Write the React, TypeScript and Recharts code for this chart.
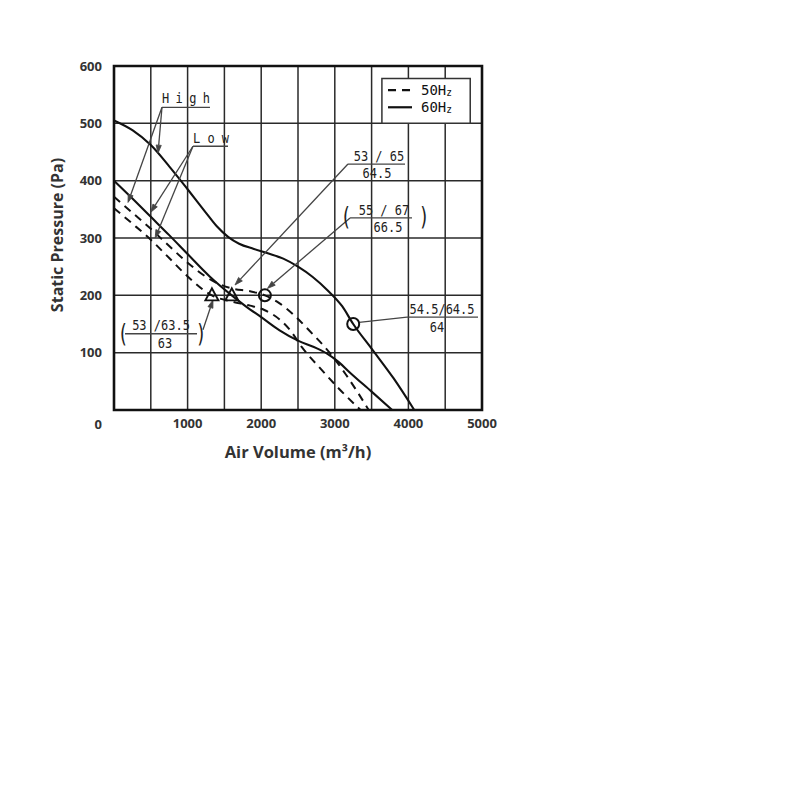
import React from 'react';
import {
  LineChart,
  Line,
  XAxis,
  YAxis,
  CartesianGrid,
  ReferenceLine,
  ReferenceDot,
  ReferenceArea,
  Label,
} from 'recharts';

// ---------- axes ----------
const xTicks = [0, 500, 1000, 1500, 2000, 2500, 3000, 3500, 4000, 4500, 5000];
const xTickLabels = [1000, 2000, 3000, 4000, 5000];
const yTicks = [0, 100, 200, 300, 400, 500, 600];

// ---------- curves (air volume m3/h -> static pressure Pa) ----------
const high60X = [0, 250, 500, 750, 1000, 1250, 1400, 1550, 1700, 1900, 2100, 2300, 2500, 2700, 2900, 3100, 3250, 3500, 3800, 4080];
const high60Y = [505, 488, 462, 425, 385, 344, 320, 302, 290, 281, 273, 264, 250, 232, 209, 181, 150, 107, 55, 0];

const low60X = [0, 250, 500, 750, 1000, 1300, 1600, 1800, 2000, 2250, 2500, 2750, 2900, 3050, 3200, 3500, 3780];
const low60Y = [400, 369, 337, 305, 272, 233, 200, 180, 162, 139, 121, 108, 98, 84, 66, 32, 0];

const high50X = [0, 250, 500, 750, 1000, 1330, 1600, 1850, 2050, 2250, 2450, 2650, 2935, 3150, 3300, 3460];
const high50Y = [372, 344, 316, 286, 257, 226, 212, 207, 200, 186, 165, 139, 99, 62, 33, 0];

const low50X = [0, 250, 500, 750, 1000, 1330, 1600, 1850, 2050, 2250, 2400, 2550, 2800, 3050, 3350];
const low50Y = [352, 325, 297, 265, 233, 200, 189, 182, 174, 158, 138, 110, 73, 38, 0];

// ---------- operating points ----------
const circlePoints = [
  { x: 2050, y: 200 },
  { x: 3250, y: 150 },
];
const trianglePoints = [
  { x: 1330, y: 200 },
  { x: 1600, y: 200 },
];

// ---------- annotations (data coordinates) ----------
const noteTexts = [
  { x: 652, y: 535, text: 'High', anchor: 'start', spacing: 6.4 },
  { x: 1073, y: 466, text: 'Low', anchor: 'start', spacing: 7.2 },
  { x: 3600, y: 434, text: '53 / 65', anchor: 'middle', spacing: 0 },
  { x: 3573, y: 405, text: '64.5', anchor: 'middle', spacing: 0 },
  { x: 3668, y: 340, text: '55 / 67', anchor: 'middle', spacing: 0 },
  { x: 3723, y: 311, text: '66.5', anchor: 'middle', spacing: 0 },
  { x: 639, y: 140, text: '53 /63.5', anchor: 'middle', spacing: 0 },
  { x: 693, y: 108, text: '63', anchor: 'middle', spacing: 0 },
  { x: 4457, y: 168, text: '54.5/64.5', anchor: 'middle', spacing: 0 },
  { x: 4389, y: 136, text: '64', anchor: 'middle', spacing: 0 },
];

const underlines = [
  [{ x: 652, y: 528 }, { x: 1304, y: 528 }],
  [{ x: 1073, y: 460 }, { x: 1549, y: 460 }],
  [{ x: 3179, y: 429 }, { x: 3954, y: 429 }],
  [{ x: 3207, y: 335 }, { x: 4049, y: 335 }],
  [{ x: 150, y: 133 }, { x: 1128, y: 133 }],
  [{ x: 3981, y: 162 }, { x: 4946, y: 162 }],
  [{ x: 3330, y: 153 }, { x: 3981, y: 162 }],
];

const arrows = [
  [{ x: 652, y: 528 }, { x: 598, y: 448 }],
  [{ x: 652, y: 528 }, { x: 190, y: 362 }],
  [{ x: 1073, y: 460 }, { x: 500, y: 345 }],
  [{ x: 1073, y: 460 }, { x: 560, y: 300 }],
  [{ x: 3179, y: 429 }, { x: 1644, y: 218 }],
  [{ x: 3207, y: 335 }, { x: 2085, y: 212 }],
  [{ x: 1209, y: 140 }, { x: 1345, y: 192 }],
];

const parens = [
  { x: 3152, y: 338, text: '(' },
  { x: 4212, y: 338, text: ')' },
  { x: 122, y: 133, text: '(' },
  { x: 1182, y: 133, text: ')' },
];

// legend box (drawn inside plot, data coordinates)
const legendBox = { x1: 3640, x2: 4840, y1: 500, y2: 578 };
const legendItems = [
  { name: '50Hz', dashed: true, y: 558 },
  { name: '60Hz', dashed: false, y: 528 },
];
const legendSample = { x1: 3723, x2: 4049, textX: 4171 };

const toPts = (xs: number[], ys: number[]) => xs.map((x, i) => ({ x, y: ys[i] }));
const high60 = toPts(high60X, high60Y);
const low60 = toPts(low60X, low60Y);
const high50 = toPts(high50X, high50Y);
const low50 = toPts(low50X, low50Y);

const FONT_TICK = "'Open Sans', 'DejaVu Sans', sans-serif";
const FONT_NOTE = "'DejaVu Sans Mono', monospace";
const INK = '#111';
const TEXT = '#333';

function XTick(props: any) {
  const { x, y, payload } = props;
  if (!xTickLabels.includes(payload.value)) return <g />;
  return (
    <text x={x} y={y} dy="0.71em" textAnchor="middle" fontFamily={FONT_TICK} fontWeight={700} fontSize={13} fill={TEXT}>
      {payload.value}
    </text>
  );
}

function YTick(props: any) {
  const { x, y, payload } = props;
  const v = payload.value;
  return (
    <text x={x} y={v === 0 ? y + 14 : y} dy="0.35em" textAnchor="end" fontFamily={FONT_TICK} fontWeight={700} fontSize={13} fill={TEXT}>
      {v}
    </text>
  );
}

function XTitle(props: any) {
  const vb = props.viewBox || { x: 106, y: 402, width: 368, height: 50 };
  return (
    <text x={vb.x + vb.width / 2} y={vb.y + 41} textAnchor="middle" dominantBaseline="central" fontFamily={FONT_TICK} fontWeight={700} fontSize={16.5} fill={TEXT}>
      Air Volume (m³/h)
    </text>
  );
}

function YTitle(props: any) {
  const vb = props.viewBox || { x: 46, y: 58, width: 60, height: 344 };
  const cx = vb.x + 3;
  const cy = vb.y + vb.height / 2 - 3;
  return (
    <text x={cx} y={cy} transform={`rotate(-90 ${cx} ${cy})`} textAnchor="middle" dominantBaseline="central" fontFamily={FONT_TICK} fontWeight={700} fontSize={16} fill={TEXT}>
      Static Pressure (Pa)
    </text>
  );
}

function ArrowLine(props: any) {
  const { x1, y1, x2, y2 } = props;
  const ang = Math.atan2(y2 - y1, x2 - x1);
  const L = 8;
  const W = 2.6;
  const bx = x2 - L * Math.cos(ang);
  const by = y2 - L * Math.sin(ang);
  const px = -Math.sin(ang) * W;
  const py = Math.cos(ang) * W;
  return (
    <g>
      <line x1={x1} y1={y1} x2={bx} y2={by} stroke="#444" strokeWidth={1.3} />
      <polygon points={`${x2},${y2} ${bx + px},${by + py} ${bx - px},${by - py}`} fill="#444" stroke="#444" strokeWidth={0.8} />
    </g>
  );
}

function PlainLine(props: any) {
  const { x1, y1, x2, y2 } = props;
  return <line x1={x1} y1={y1} x2={x2} y2={y2} stroke="#444" strokeWidth={1.3} />;
}

function makeNote(t: any) {
  return (props: any) => (
    <g transform={`translate(${props.cx},${props.cy}) scale(1,1.1)`}>
      <text x={0} y={0} textAnchor={t.anchor} fontFamily={FONT_NOTE} fontSize={12} letterSpacing={t.spacing} fill="#222">
        {t.text}
      </text>
    </g>
  );
}

function makeParen(t: any) {
  return (props: any) => (
    <g transform={`translate(${props.cx},${props.cy}) scale(0.8,1.15)`}>
      <text x={0} y={0} textAnchor="middle" dominantBaseline="central" fontFamily={FONT_NOTE} fontSize={22} fill="#222">
        {t.text}
      </text>
    </g>
  );
}

function makeLegendText(name: string) {
  return (props: any) => (
    <g transform={`translate(${props.cx},${props.cy}) scale(1,1.05)`}>
      <text x={0} y={0} dominantBaseline="central" fontFamily={FONT_NOTE} fontSize={14} fill="#111">
        {name.slice(0, 3)}
        <tspan fontSize={9.5} dy={2}>{name.slice(3)}</tspan>
      </text>
    </g>
  );
}

function TriangleShape(props: any) {
  const { cx, cy } = props;
  return (
    <polygon
      points={`${cx},${cy - 7} ${cx - 6.5},${cy + 5} ${cx + 6.5},${cy + 5}`}
      fill="none"
      stroke={INK}
      strokeWidth={1.9}
    />
  );
}

function CircleShape(props: any) {
  const { cx, cy } = props;
  return <circle cx={cx} cy={cy} r={6} fill="none" stroke={INK} strokeWidth={2} />;
}

export default function App() {
  return (
    <div style={{ background: '#fff' }}>
      <LineChart width={500} height={470} margin={{ top: 58, right: 26, left: 46, bottom: 18 }}>
        <CartesianGrid stroke="#2a2a2a" strokeWidth={1.5} horizontal vertical />
        <XAxis
          type="number"
          dataKey="x"
          domain={[0, 5000]}
          ticks={xTicks}
          interval={0}
          axisLine={false}
          tickLine={false}
          tickSize={0}
          tickMargin={9}
          height={50}
          tick={<XTick />}
        >
          <Label content={<XTitle />} />
        </XAxis>
        <YAxis
          type="number"
          dataKey="y"
          domain={[0, 600]}
          ticks={yTicks}
          interval={0}
          axisLine={false}
          tickLine={false}
          tickSize={0}
          tickMargin={12}
          width={60}
          tick={<YTick />}
        >
          <Label content={<YTitle />} />
        </YAxis>

        <Line data={high60} dataKey="y" type="monotone" stroke={INK} strokeWidth={2.1} dot={false} activeDot={false} isAnimationActive={false} />
        <Line data={low60} dataKey="y" type="monotone" stroke={INK} strokeWidth={2.1} dot={false} activeDot={false} isAnimationActive={false} />
        <Line data={high50} dataKey="y" type="monotone" stroke={INK} strokeWidth={2} strokeDasharray="8 6" dot={false} activeDot={false} isAnimationActive={false} />
        <Line data={low50} dataKey="y" type="monotone" stroke={INK} strokeWidth={2} strokeDasharray="8 6" dot={false} activeDot={false} isAnimationActive={false} />

        <ReferenceArea x1={0} x2={5000} y1={0} y2={600} fill="none" stroke={INK} strokeWidth={2.6} fillOpacity={0} />

        <ReferenceArea
          x1={legendBox.x1}
          x2={legendBox.x2}
          y1={legendBox.y1}
          y2={legendBox.y2}
          fill="#fff"
          fillOpacity={1}
          stroke="#333"
          strokeWidth={1.5}
        />
        {legendItems.map((it) => (
          <ReferenceLine
            key={'ls' + it.name}
            segment={[
              { x: legendSample.x1, y: it.y },
              { x: legendSample.x2, y: it.y },
            ]}
            stroke={INK}
            strokeWidth={2.2}
            strokeDasharray={it.dashed ? '8 6' : undefined}
          />
        ))}
        {legendItems.map((it) => (
          <ReferenceDot key={'lt' + it.name} x={legendSample.textX} y={it.y} r={1} shape={makeLegendText(it.name)} />
        ))}

        {underlines.map((seg, i) => (
          <ReferenceLine key={'u' + i} segment={seg} shape={<PlainLine />} />
        ))}
        {arrows.map((seg, i) => (
          <ReferenceLine key={'a' + i} segment={seg} shape={<ArrowLine />} />
        ))}
        {noteTexts.map((t, i) => (
          <ReferenceDot key={'t' + i} x={t.x} y={t.y} r={1} shape={makeNote(t)} />
        ))}
        {parens.map((t, i) => (
          <ReferenceDot key={'p' + i} x={t.x} y={t.y} r={1} shape={makeParen(t)} />
        ))}

        {trianglePoints.map((p, i) => (
          <ReferenceDot key={'tri' + i} x={p.x} y={p.y} r={6} shape={<TriangleShape />} />
        ))}
        {circlePoints.map((p, i) => (
          <ReferenceDot key={'c' + i} x={p.x} y={p.y} r={6} shape={<CircleShape />} />
        ))}
      </LineChart>
    </div>
  );
}
